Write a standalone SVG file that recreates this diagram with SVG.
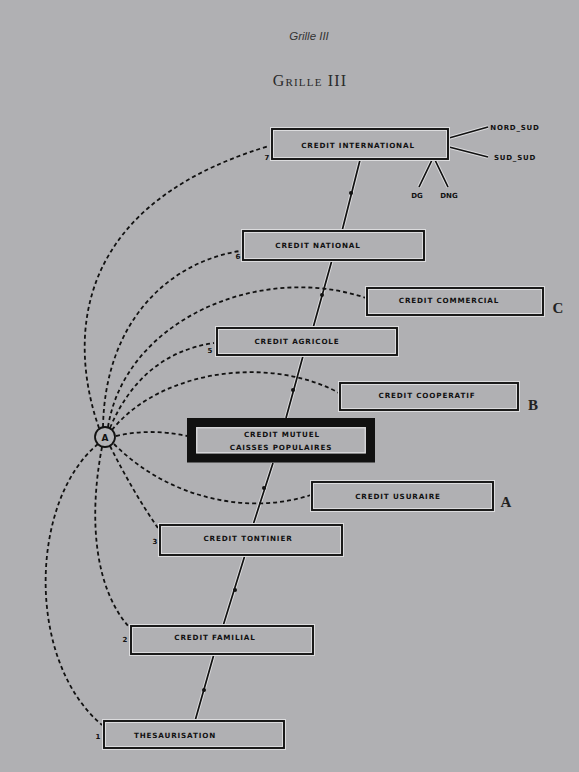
<svg xmlns="http://www.w3.org/2000/svg" width="579" height="772" viewBox="0 0 579 772">
<style>
.box{fill:none;stroke:#111;stroke-width:1.9}
.halo{fill:none;stroke:#dcdcde;stroke-width:4}
.lbl{font-family:"DejaVu Sans",sans-serif;font-weight:bold;font-size:7.2px;letter-spacing:0.85px;fill:#111;text-anchor:middle}
.num{font-family:"DejaVu Sans",sans-serif;font-weight:bold;font-size:7px;fill:#111;text-anchor:middle}
.side{font-family:"Liberation Serif",serif;font-weight:bold;font-size:15px;fill:#222;text-anchor:middle}
.dash{fill:none;stroke:#111;stroke-width:1.8;stroke-dasharray:4 3}
.solid{fill:none;stroke:#111;stroke-width:1.7}
.solidhalo{fill:none;stroke:#dcdcde;stroke-width:3.6}
</style>
<rect x="0" y="0" width="579" height="772" fill="#b0b0b3"/>
<text x="309" y="40" font-family="Liberation Sans,sans-serif" font-style="italic" font-size="11.5" fill="#333" text-anchor="middle">Grille III</text>
<text x="310" y="86" font-family="Liberation Serif,serif" font-size="16" font-variant="small-caps" letter-spacing="1.2" fill="#2a2a2a" text-anchor="middle">Grille III</text>

<g id="connectors">
  <g id="chain">
    <path class="solidhalo" d="M360,160 L342,231 M332,260 L313,328 M303,356 L286,418 M273,463 L253,525 M245,555 L223,626 M214,654 L195,721"/>
    <path class="solid" d="M360,160 L342,231 M332,260 L313,328 M303,356 L286,418 M273,463 L253,525 M245,555 L223,626 M214,654 L195,721"/>
    <g fill="#111">
      <circle cx="351" cy="193" r="2"/>
      <circle cx="322" cy="295" r="2"/>
      <circle cx="293" cy="390" r="2"/>
      <circle cx="264" cy="488" r="2"/>
      <circle cx="235" cy="590" r="2"/>
      <circle cx="204" cy="690" r="2"/>
    </g>
  </g>
  <g id="branches">
    <path class="solidhalo" d="M449,138 L488,127 M449,147 L488,157 M432,160 L419,187 M435,160 L448,187"/>
    <path class="solid" d="M449,138 L488,127 M449,147 L488,157 M432,160 L419,187 M435,160 L448,187"/>
  </g>
  <g id="dashed">
    <path class="dash" d="M99,428 C75,360 55,210 269,146"/>
    <path class="dash" d="M103,427 C105,320 170,262 240,251"/>
    <path class="dash" d="M108,427 C125,320 260,262 366,298"/>
    <path class="dash" d="M110,428 C130,380 165,350 214,343"/>
    <path class="dash" d="M112,430 C160,370 270,355 339,393"/>
    <path class="dash" d="M116,436 Q150,428 187,436"/>
    <path class="dash" d="M114,444 C170,500 250,515 311,495"/>
    <path class="dash" d="M110,446 Q133,492 158,528"/>
    <path class="dash" d="M102,447 C88,520 95,590 130,628"/>
    <path class="dash" d="M98,444 C30,500 25,660 102,725"/>
  </g>
</g>

<g id="A">
  <circle cx="105" cy="437" r="10" fill="#b3b3b6" stroke="#111" stroke-width="1.8"/>
  <text x="105" y="440.5" font-family="DejaVu Sans,sans-serif" font-weight="bold" font-size="9" fill="#111" text-anchor="middle">A</text>
</g>

<g id="credit-international">
  <rect class="halo" x="272" y="129" width="176" height="30"/>
  <rect class="box" x="272" y="129" width="176" height="30"/>
  <text class="lbl" x="358" y="147.5">CREDIT INTERNATIONAL</text>
  <text class="num" x="267" y="160">7</text>
</g>
<g id="nord-sud"><text class="num" x="515" y="130" letter-spacing="0.8">NORD_SUD</text></g>
<g id="sud-sud"><text class="num" x="515" y="160" letter-spacing="0.8">SUD_SUD</text></g>
<g id="dg"><text class="num" x="417" y="198">DG</text></g>
<g id="dng"><text class="num" x="449" y="198">DNG</text></g>

<g id="credit-national">
  <rect class="halo" x="243" y="231" width="181" height="29"/>
  <rect class="box" x="243" y="231" width="181" height="29"/>
  <text class="lbl" x="318" y="248">CREDIT NATIONAL</text>
  <text class="num" x="238" y="259">6</text>
</g>

<g id="credit-commercial">
  <rect class="halo" x="367" y="288" width="176" height="27"/>
  <rect class="box" x="367" y="288" width="176" height="27"/>
  <text class="lbl" x="449" y="303">CREDIT COMMERCIAL</text>
  <text class="side" x="558" y="313">C</text>
</g>

<g id="credit-agricole">
  <rect class="halo" x="217" y="328" width="180" height="27"/>
  <rect class="box" x="217" y="328" width="180" height="27"/>
  <text class="lbl" x="297" y="344">CREDIT AGRICOLE</text>
  <text class="num" x="210" y="353">5</text>
</g>

<g id="credit-cooperatif">
  <rect class="halo" x="340" y="383" width="178" height="27"/>
  <rect class="box" x="340" y="383" width="178" height="27"/>
  <text class="lbl" x="427" y="398">CREDIT COOPERATIF</text>
  <text class="side" x="533" y="410">B</text>
</g>

<g id="credit-mutuel">
  <rect x="191.5" y="422.5" width="179" height="35.5" fill="none" stroke="#111" stroke-width="9"/>
  <rect x="196.8" y="427.8" width="168.4" height="24.9" fill="none" stroke="#dcdcde" stroke-width="1.2"/>
  <text class="lbl" x="282" y="437">CREDIT MUTUEL</text>
  <text class="lbl" x="281" y="450">CAISSES POPULAIRES</text>
</g>

<g id="credit-usuraire">
  <rect class="halo" x="312" y="482" width="181" height="28"/>
  <rect class="box" x="312" y="482" width="181" height="28"/>
  <text class="lbl" x="398" y="499">CREDIT USURAIRE</text>
  <text class="side" x="506" y="507">A</text>
</g>

<g id="credit-tontinier">
  <rect class="halo" x="160" y="525" width="182" height="30"/>
  <rect class="box" x="160" y="525" width="182" height="30"/>
  <text class="lbl" x="248" y="541">CREDIT TONTINIER</text>
  <text class="num" x="155" y="544">3</text>
</g>

<g id="credit-familial">
  <rect class="halo" x="131" y="626" width="182" height="28"/>
  <rect class="box" x="131" y="626" width="182" height="28"/>
  <text class="lbl" x="215" y="640">CREDIT FAMILIAL</text>
  <text class="num" x="125" y="642">2</text>
</g>

<g id="thesaurisation">
  <rect class="halo" x="104" y="721" width="180" height="27"/>
  <rect class="box" x="104" y="721" width="180" height="27"/>
  <text class="lbl" x="175" y="738">THESAURISATION</text>
  <text class="num" x="98" y="739">1</text>
</g>
</svg>
